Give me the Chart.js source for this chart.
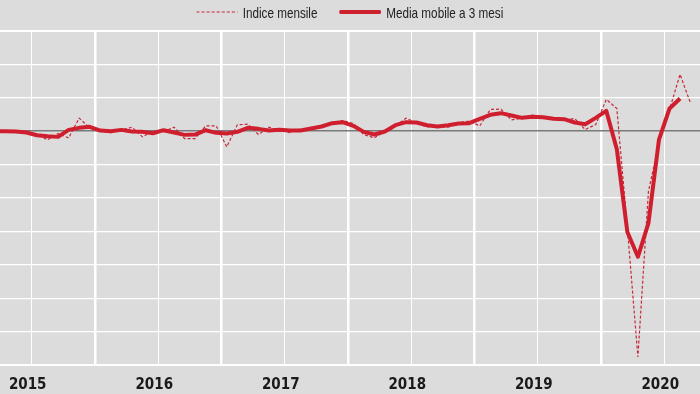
<!DOCTYPE html>
<html>
<head>
<meta charset="utf-8">
<script src="https://cdn.jsdelivr.net/npm/chart.js@4.4.1/dist/chart.umd.min.js"></script>
<style>
    body { margin: 0; background: #dcdcdc; }
    #wrap { position: relative; width: 700px; height: 394px; }
    #legend {
        position: absolute; top: 1px; left: 0; width: 700px; text-align: center; white-space: nowrap;
        font: 15px "Liberation Sans", Arial, sans-serif; color: #222;
        transform: scaleX(0.78); transform-origin: 350px 0;
    }
    .item { display: inline-flex; align-items: center; margin: 0 12px; }
    .item svg { margin-right: 6px; }
</style>
</head>
<body>
<div id="wrap">
    <canvas id="chart" width="700" height="394"></canvas>
    <div id="legend">
        <span class="item"><svg width="53" height="6"><line x1="0" y1="3" x2="53" y2="3" stroke="#c8283a" stroke-width="1.2" stroke-dasharray="4 2.5"/></svg>Indice mensile</span>
        <span class="item"><svg width="54" height="6"><line x1="2" y1="3" x2="52" y2="3" stroke="#cd2130" stroke-width="4" stroke-linecap="round"/></svg>Media mobile a 3 mesi</span>
    </div>
</div>
<script>
// mesi (marzo 2015 - settembre 2020)
var mesi = [
    "2015-03", "2015-04", "2015-05", "2015-06", "2015-07", "2015-08", "2015-09", "2015-10", "2015-11", "2015-12",
    "2016-01", "2016-02", "2016-03", "2016-04", "2016-05", "2016-06", "2016-07", "2016-08", "2016-09", "2016-10", "2016-11", "2016-12",
    "2017-01", "2017-02", "2017-03", "2017-04", "2017-05", "2017-06", "2017-07", "2017-08", "2017-09", "2017-10", "2017-11", "2017-12",
    "2018-01", "2018-02", "2018-03", "2018-04", "2018-05", "2018-06", "2018-07", "2018-08", "2018-09", "2018-10", "2018-11", "2018-12",
    "2019-01", "2019-02", "2019-03", "2019-04", "2019-05", "2019-06", "2019-07", "2019-08", "2019-09", "2019-10", "2019-11", "2019-12",
    "2020-01", "2020-02", "2020-03", "2020-04", "2020-05", "2020-06", "2020-07", "2020-08", "2020-09"
];

var indiceMensile = [
    100.0, 100.0, 100.1, 99.8, 99.0, 97.4, 99.3, 98.0, 103.9, 101.0,
    100.0, 99.6, 100.3, 101.2, 98.3, 100.0, 99.8, 101.2, 97.8, 97.8, 101.6, 101.6,
    95.3, 101.9, 102.1, 99.0, 101.2, 100.2, 99.6, 100.7, 100.3, 101.5, 102.6, 103.2,
    102.3, 99.0, 98.0, 100.0, 101.6, 103.9, 102.5, 101.3, 101.5, 101.2, 102.6, 103.0,
    101.6, 106.5, 106.6, 103.4, 103.9, 104.8, 104.0, 103.8, 103.4, 103.8, 100.5, 102.0,
    109.5, 106.8, 71.0, 32.4, 82.0, 96.5, 106.5, 117.0, 108.3
];

// media mobile a 3 mesi (si ferma ad agosto 2020)
var mediaMobile = [
    100.0, 100.0, 99.9, 99.6, 98.8, 98.5, 98.3, 100.4, 101.0, 101.3,
    100.2, 100.0, 100.4, 99.9, 99.8, 99.4, 100.3, 99.6, 98.9, 99.0, 100.3, 99.5,
    99.3, 99.8, 101.0, 100.7, 100.2, 100.4, 100.2, 100.2, 100.8, 101.4, 102.4, 102.7,
    101.6, 99.8, 99.0, 99.9, 101.8, 102.7, 102.6, 101.8, 101.4, 101.8, 102.3, 102.4,
    103.7, 104.9, 105.4, 104.7, 104.0, 104.3, 104.2, 103.7, 103.6, 102.6, 102.1, 104.0,
    106.1, 94.6, 69.8, 62.4, 72.5, 97.5, 106.8, 109.8
];

var anni = ["2015", "2016", "2017", "2018", "2019", "2020"];

var fontNarrow = '"Liberation Sans Narrow", "DejaVu Sans Condensed", sans-serif';

// mesi dal gennaio 2015
function numeroMese(s) {
    var p = s.split("-");
    return (parseInt(p[0], 10) - 2015) * 12 + parseInt(p[1], 10) - 1;
}

function punti(values) {
    return values.map(function (v, i) {
        return { x: numeroMese(mesi[i]), y: v };
    });
}

new Chart(document.getElementById("chart"), {
    type: "line",
    data: {
        datasets: [{
            label: "Media mobile a 3 mesi",
            data: punti(mediaMobile),
            borderColor: "#cf1f2e",
            borderWidth: 4,
            borderJoinStyle: "round",
            pointRadius: 0,
            order: 0
        }, {
            label: "Indice mensile",
            data: punti(indiceMensile),
            borderColor: "#c8283a",
            borderWidth: 1.2,
            borderDash: [3, 2],
            pointRadius: 0,
            order: 1
        }]
    },
    options: {
        responsive: false,
        animation: false,
        devicePixelRatio: 1,
        events: [],
        layout: { padding: { top: 31, left: 0, right: 0, bottom: 0 } },
        plugins: {
            legend: { display: false },
            tooltip: { enabled: false }
        },
        scales: {
            x: {
                type: "linear",
                min: 2.49,
                max: 68.89,
                border: { display: false },
                afterBuildTicks: function (scale) {
                    var t = [];
                    for (var v = 5.5; v <= 65.5; v += 6) t.push({ value: v });
                    scale.ticks = t;
                },
                afterFit: function (scale) { scale.height = 29; },
                ticks: {
                    autoSkip: false,
                    maxRotation: 0,
                    padding: 11,
                    labelOffset: -4,
                    color: "#1a1a1a",
                    font: { family: fontNarrow, size: 15, weight: "bold" },
                    callback: function (value, index) {
                        return index % 2 === 0 ? anni[index / 2] : "";
                    }
                },
                grid: {
                    drawTicks: false,
                    color: "#ffffff",
                    lineWidth: function (ctx) {
                        return ctx.index % 2 === 1 ? 2.5 : 1;
                    }
                }
            },
            y: {
                min: 30,
                max: 130,
                border: { display: false },
                afterFit: function (scale) { scale.width = 0; },
                ticks: { stepSize: 10, display: false },
                grid: {
                    drawTicks: false,
                    color: function (ctx) {
                        return ctx.tick.value === 100 ? "#7a7a7a" : "#ffffff";
                    },
                    lineWidth: function (ctx) {
                        var v = ctx.tick.value;
                        if (v === 100) return 1.5;
                        if (v === 30 || v === 130) return 2;
                        return 1.2;
                    }
                }
            }
        }
    }
});
</script>
</body>
</html>
